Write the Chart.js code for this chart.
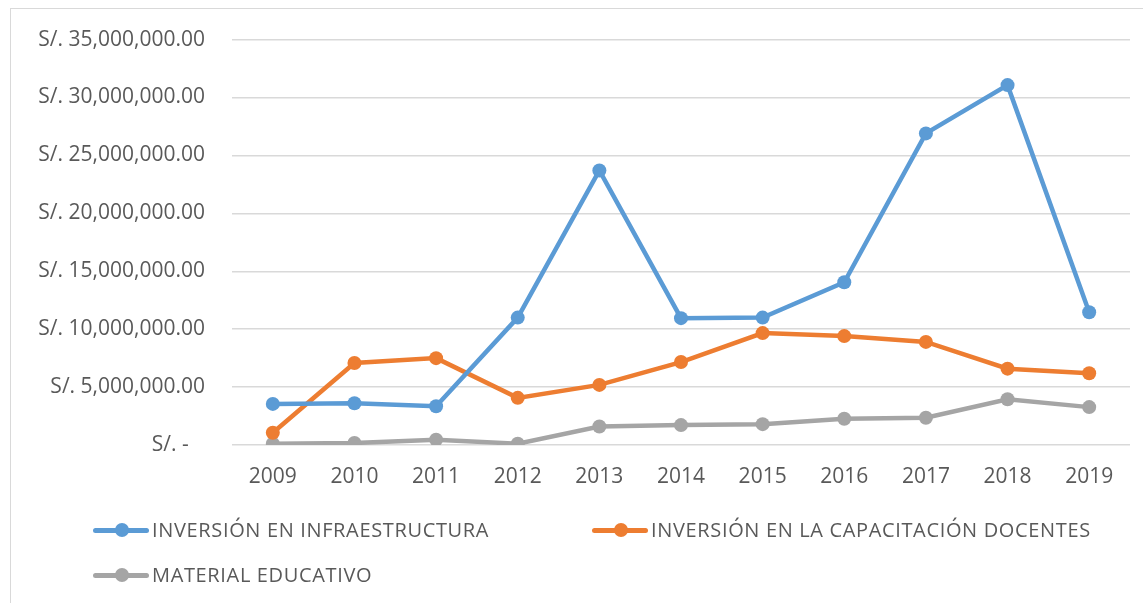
<!DOCTYPE html>
<html>
<head>
<meta charset="utf-8">
<script src="https://cdn.jsdelivr.net/npm/chart.js@4"></script>
<style>
  body { margin: 0; background: #fff; font-family: "Open Sans", "Liberation Sans", sans-serif; }
  #wrap { position: relative; width: 1143px; height: 603px; }
  #frame { position: absolute; left: 10px; top: 8px; width: 1140px; height: 600px;
           border-left: 1.5px solid #d9d9d9; border-top: 1.5px solid #d9d9d9; }
  canvas { position: absolute; left: 0; top: 0; }
  .leg { position: absolute; display: flex; align-items: center; font-size: 20px; color: #595959;
         letter-spacing: 0.65px; }
  .leg .ico { position: relative; width: 56px; height: 14px; margin-right: 3px; }
  .leg .ico .ln { position: absolute; left: 0; right: 0; top: 5px; height: 5px; border-radius: 3px; }
  .leg .ico .dt { position: absolute; left: 22px; top: 0; width: 14px; height: 14px; border-radius: 50%; }
</style>
</head>
<body>
<div id="wrap">
  <div id="frame"></div>
  <canvas id="chart" width="1143" height="603"></canvas>
  <div id="legend"></div>
</div>
<script>
// Data
const years = ['2009', '2010', '2011', '2012', '2013', '2014', '2015', '2016', '2017', '2018', '2019'];
const infraestructura = [3550000, 3600000, 3350000, 11000000, 23700000, 10950000, 11000000, 14050000, 26900000, 31070000, 11460000];
const capacitacion = [1060000, 7080000, 7500000, 4070000, 5190000, 7160000, 9660000, 9400000, 8900000, 6590000, 6190000];
const material = [110000, 170000, 460000, 110000, 1600000, 1720000, 1800000, 2260000, 2350000, 3950000, 3270000];

const seriesNames = ['INVERSIÓN EN INFRAESTRUCTURA', 'INVERSIÓN EN LA CAPACITACIÓN DOCENTES', 'MATERIAL EDUCATIVO'];
const colors = ['#5b9bd5', '#ed7d31', '#a5a5a5'];

function money(v) {
    if (v === 0) return 'S/. -   ';
    return 'S/. ' + v.toLocaleString('en-US', { minimumFractionDigits: 2, maximumFractionDigits: 2 });
}

function makeSet(i, values) {
    return {
        label: seriesNames[i],
        data: values,
        borderColor: colors[i],
        backgroundColor: colors[i],
        borderWidth: 4.5,
        pointRadius: 7,
        pointHoverRadius: 7,
        pointBorderWidth: 0,
        tension: 0
    };
}

new Chart(document.getElementById('chart'), {
    type: 'line',
    data: {
        labels: years,
        datasets: [makeSet(0, infraestructura), makeSet(1, capacitacion), makeSet(2, material)]
    },
    options: {
        responsive: false,
        animation: false,
        layout: { padding: { top: 37, right: 13, bottom: 0, left: 0 } },
        plugins: { legend: { display: false }, tooltip: { enabled: false } },
        scales: {
            x: {
                offset: true,
                grid: { display: false, drawTicks: false },
                border: { display: false },
                ticks: { color: '#595959', font: { size: 21, family: 'Open Sans' }, padding: 19 },
                afterFit: (s) => { s.height = 158; }
            },
            y: {
                min: 0,
                max: 35000000,
                grid: { color: '#d9d9d9', lineWidth: 1.5, drawTicks: false },
                border: { display: false },
                ticks: {
                    stepSize: 5000000,
                    color: '#595959',
                    font: { size: 21, family: 'Open Sans' },
                    padding: 27,
                    callback: (v) => money(v)
                },
                afterFit: (s) => { s.width = 232; }
            }
        }
    }
});

// Legend laid out like the original, two rows
const legendPos = [[93, 530], [592, 530], [93, 575]];
const legend = document.getElementById('legend');
seriesNames.forEach((name, i) => {
    const el = document.createElement('div');
    el.className = 'leg';
    el.style.left = legendPos[i][0] + 'px';
    el.style.top = (legendPos[i][1] - 14) + 'px';
    el.innerHTML = '<span class="ico"><span class="ln" style="background:' + colors[i] + '"></span>' +
        '<span class="dt" style="background:' + colors[i] + '"></span></span><span>' + name + '</span>';
    legend.appendChild(el);
});
</script>
</body>
</html>
